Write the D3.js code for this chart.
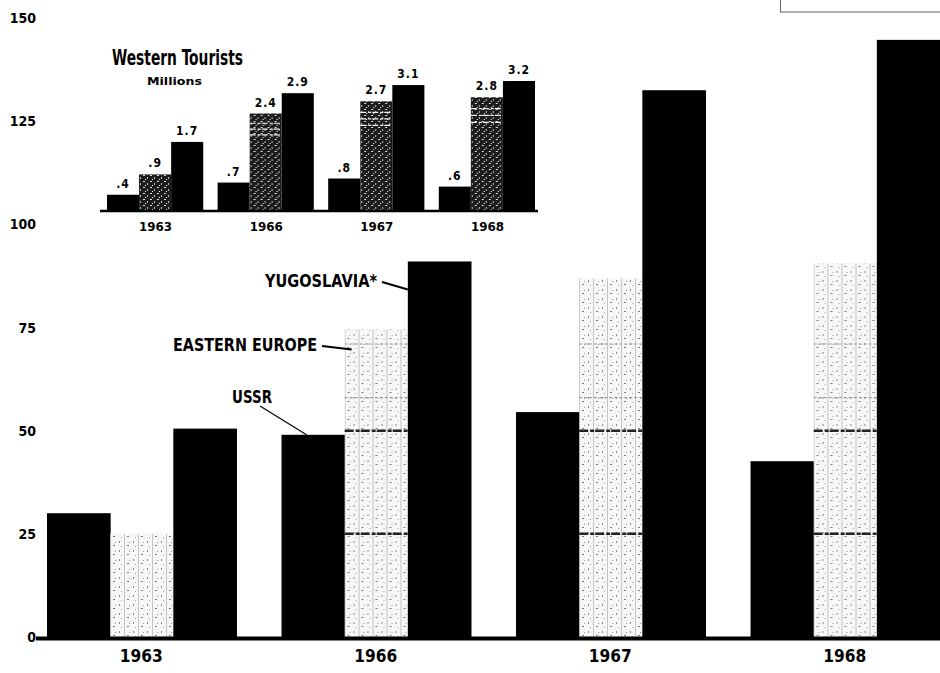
<html>
<head>
<title>Western Tourists</title>
<script src="https://d3js.org/d3.v7.min.js"></script>
<style>
  body { margin: 0; background: #fff; }
  svg { display: block; }
  text { font-family: 'Liberation Sans Narrow', 'DejaVu Sans Condensed', 'Liberation Sans', sans-serif; font-weight: bold; fill: #000; }
</style>
</head>
<body>
<div id="container"></div>
<script>
// main chart values
var years = ['1963', '1966', '1967', '1968']
var series = ['USSR', 'Eastern Europe', 'Yugoslavia']
var ussr = [30, 49, 54.5, 42.6]
var easternEurope = [25, 74.5, 87, 90.5]
var yugoslavia = [50.5, 91, 132.5, 144.7]
var yTicks = [0, 25, 50, 75, 100, 125, 150]

// inset: Western Tourists, millions
var insetUssr = [0.4, 0.7, 0.8, 0.6]
var insetEastern = [0.9, 2.4, 2.7, 2.8]
var insetYugo = [1.7, 2.9, 3.1, 3.2]

var W = 940, H = 673

var svg = d3.select('#container').append('svg')
  .attr('width', W)
  .attr('height', H)

var defs = svg.append('defs')

// light screen for the Eastern Europe bars
var pat = defs.append('pattern')
  .attr('id', 'screen')
  .attr('patternUnits', 'userSpaceOnUse')
  .attr('width', 14).attr('height', 9)
pat.append('rect').attr('width', 14).attr('height', 9).attr('fill', '#f7f7f7')
pat.append('rect').attr('x', 2).attr('y', 1).attr('width', 1).attr('height', 2).attr('fill', '#888')
pat.append('rect').attr('x', 7).attr('y', 0).attr('width', 1).attr('height', 9).attr('fill', '#c4c4c4')
pat.append('rect').attr('x', 10).attr('y', 5).attr('width', 2).attr('height', 1).attr('fill', '#7a7a7a')
pat.append('rect').attr('x', 4).attr('y', 6).attr('width', 1).attr('height', 1).attr('fill', '#a0a0a0')
pat.append('rect').attr('x', 12).attr('y', 2).attr('width', 1).attr('height', 1).attr('fill', '#999')

// dark screen for the inset
var pat2 = defs.append('pattern')
  .attr('id', 'screen2')
  .attr('patternUnits', 'userSpaceOnUse')
  .attr('width', 7).attr('height', 6)
pat2.append('rect').attr('width', 7).attr('height', 6).attr('fill', '#1c1c1c')
pat2.append('rect').attr('x', 1).attr('y', 1).attr('width', 2).attr('height', 1).attr('fill', '#e0e0e0')
pat2.append('rect').attr('x', 5).attr('y', 3).attr('width', 1).attr('height', 2).attr('fill', '#bbb')
pat2.append('rect').attr('x', 3).attr('y', 5).attr('width', 1).attr('height', 1).attr('fill', '#fff')

// ---- main chart
var x0 = d3.scaleBand().domain(years).range([47, 940]).paddingInner(0.192)
var x1 = d3.scaleBand().domain(series).range([0, x0.bandwidth()])
var y = d3.scaleLinear().domain([0, 150]).range([637, 18])

var rows = years.map(function(yr, i){
  return { year: yr, values: [ussr[i], easternEurope[i], yugoslavia[i]] }
})

var groups = svg.selectAll('g.year')
  .data(rows)
  .enter().append('g')
  .attr('class', 'year')
  .attr('transform', function(d){ return 'translate(' + x0(d.year) + ',0)' })

groups.selectAll('rect')
  .data(function(d){ return d.values.map(function(v, j){ return { s: series[j], v: v } }) })
  .enter().append('rect')
  .attr('x', function(d){ return x1(d.s) })
  .attr('width', function(d){ return x1.bandwidth() + (d.s === 'Eastern Europe' ? 0 : 0.5) })
  .attr('y', function(d){ return y(d.v) })
  .attr('height', function(d){ return y(0) - y(d.v) })
  .attr('fill', function(d){ return d.s === 'Eastern Europe' ? 'url(#screen)' : '#000' })

// old grid rules showing through the screen
var screenLines = [{ v: 25, w: 2.5, c: '#222' }, { v: 50, w: 2.5, c: '#222' }, { v: 58, w: 1, c: '#888' }, { v: 71, w: 1, c: '#999' }]
groups.each(function(d){
  var g = d3.select(this)
  var ee = d.values[1]
  screenLines.filter(function(l){ return l.v < ee }).forEach(function(l){
    g.append('line')
      .attr('x1', x1('Eastern Europe')).attr('x2', x1('Eastern Europe') + x1.bandwidth())
      .attr('y1', y(l.v)).attr('y2', y(l.v))
      .attr('stroke', l.c).attr('stroke-width', l.w)
      .attr('stroke-dasharray', l.w > 2 ? '9,2,4,1' : '3,2')
  })
})

// baseline
svg.append('line')
  .attr('x1', 36).attr('x2', W)
  .attr('y1', y(0) + 1.5).attr('y2', y(0) + 1.5)
  .attr('stroke', '#000').attr('stroke-width', 4)

// y tick labels
svg.selectAll('text.ytick')
  .data(yTicks)
  .enter().append('text')
  .attr('class', 'ytick')
  .attr('x', 36)
  .attr('y', function(d){ return y(d) + 5 })
  .attr('text-anchor', 'end')
  .style('font-size', '14px')
  .text(function(d){ return d })

// year labels
svg.selectAll('text.xlab')
  .data(years)
  .enter().append('text')
  .attr('class', 'xlab')
  .attr('x', function(d){ return x0(d) + x0.bandwidth() / 2 - 22 })
  .attr('y', 662)
  .attr('textLength', 43)
  .attr('lengthAdjust', 'spacingAndGlyphs')
  .style('font-size', '18px')
  .text(function(d){ return d })

// series call-outs, pointing at the 1966 group
var notes = [
  { s: 'Yugoslavia', text: 'YUGOSLAVIA*', tx: 265, ty: 287, len: 112, lx: 382, ly: 282, dx: 0, dy: 28 },
  { s: 'Eastern Europe', text: 'EASTERN EUROPE', tx: 173, ty: 351, len: 144, lx: 322, ly: 346, dx: 7, dy: 20 },
  { s: 'USSR', text: 'USSR', tx: 232, ty: 403, len: 40, lx: 260, ly: 406, dx: 25, dy: 0 }
]
notes.forEach(function(n){
  var v = rows[1].values[series.indexOf(n.s)]
  svg.append('text')
    .attr('x', n.tx).attr('y', n.ty)
    .attr('textLength', n.len)
    .attr('lengthAdjust', 'spacingAndGlyphs')
    .style('font-size', '17px')
    .text(n.text)
  svg.append('line')
    .attr('x1', n.lx).attr('y1', n.ly)
    .attr('x2', x0('1966') + x1(n.s) + n.dx)
    .attr('y2', y(v) + n.dy)
    .attr('stroke', '#000')
    .attr('stroke-width', n.s === 'USSR' ? 1.2 : 2)
})

// ---- inset
var ix0 = d3.scaleBand().domain(years).range([107, 535]).paddingInner(0.13)
var ix1 = d3.scaleBand().domain(series).range([0, ix0.bandwidth()])
var iy = d3.scaleLinear().domain([0, 3.2]).range([211, 81])
var fmt = function(v){ return v < 1 ? String(v).replace(/^0/, '') : String(v) }

var irows = years.map(function(yr, i){
  return { year: yr, values: [insetUssr[i], insetEastern[i], insetYugo[i]] }
})

var ig = svg.selectAll('g.inset')
  .data(irows)
  .enter().append('g')
  .attr('class', 'inset')
  .attr('transform', function(d){ return 'translate(' + ix0(d.year) + ',0)' })

var ibars = ig.selectAll('g')
  .data(function(d){ return d.values.map(function(v, j){ return { s: series[j], v: v } }) })
  .enter().append('g')

ibars.append('rect')
  .attr('x', function(d){ return ix1(d.s) })
  .attr('width', ix1.bandwidth())
  .attr('y', function(d){ return iy(d.v) })
  .attr('height', function(d){ return iy(0) - iy(d.v) })
  .attr('fill', function(d){ return d.s === 'Eastern Europe' ? 'url(#screen2)' : '#000' })

// white streaks across the top of the inset screen bars
ig.each(function(d){
  var g = d3.select(this)
  var v = d.values[1]
  if (v < 2) return
  ;[0.25, 0.4, 0.55].forEach(function(f){
    g.append('line')
      .attr('x1', ix1('Eastern Europe')).attr('x2', ix1('Eastern Europe') + ix1.bandwidth())
      .attr('y1', iy(v * (1 - f * 0.4))).attr('y2', iy(v * (1 - f * 0.4)))
      .attr('stroke', '#f4f4f4').attr('stroke-width', 1.2)
      .attr('stroke-dasharray', '6,2,3,1')
  })
})

ibars.append('text')
  .attr('x', function(d){ return ix1(d.s) + ix1.bandwidth() / 2 })
  .attr('y', function(d){ return iy(d.v) - 7 })
  .attr('text-anchor', 'middle')
  .style('font-size', '12px')
  .style('letter-spacing', '1px')
  .text(function(d){ return fmt(d.v) })

svg.append('line')
  .attr('x1', 100).attr('x2', 538)
  .attr('y1', iy(0)).attr('y2', iy(0))
  .attr('stroke', '#000').attr('stroke-width', 2.5)

svg.selectAll('text.ixlab')
  .data(years)
  .enter().append('text')
  .attr('class', 'ixlab')
  .attr('x', function(d){ return ix0(d) + ix0.bandwidth() / 2 - 16 })
  .attr('y', 231)
  .attr('textLength', 33)
  .attr('lengthAdjust', 'spacingAndGlyphs')
  .style('font-size', '12px')
  .text(function(d){ return d })

svg.append('text')
  .attr('x', 112).attr('y', 65)
  .attr('textLength', 131)
  .attr('lengthAdjust', 'spacingAndGlyphs')
  .style('font-size', '22px')
  .text('Western Tourists')

svg.append('text')
  .attr('x', 147).attr('y', 85)
  .attr('textLength', 55)
  .attr('lengthAdjust', 'spacingAndGlyphs')
  .style('font-size', '11px')
  .text('Millions')

// stray frame in the top right corner of the scan
svg.append('rect')
  .attr('x', 780.5).attr('y', -2)
  .attr('width', 170).attr('height', 14)
  .attr('fill', 'none')
  .attr('stroke', '#666')
  .attr('stroke-width', 1)
</script>
</body>
</html>
